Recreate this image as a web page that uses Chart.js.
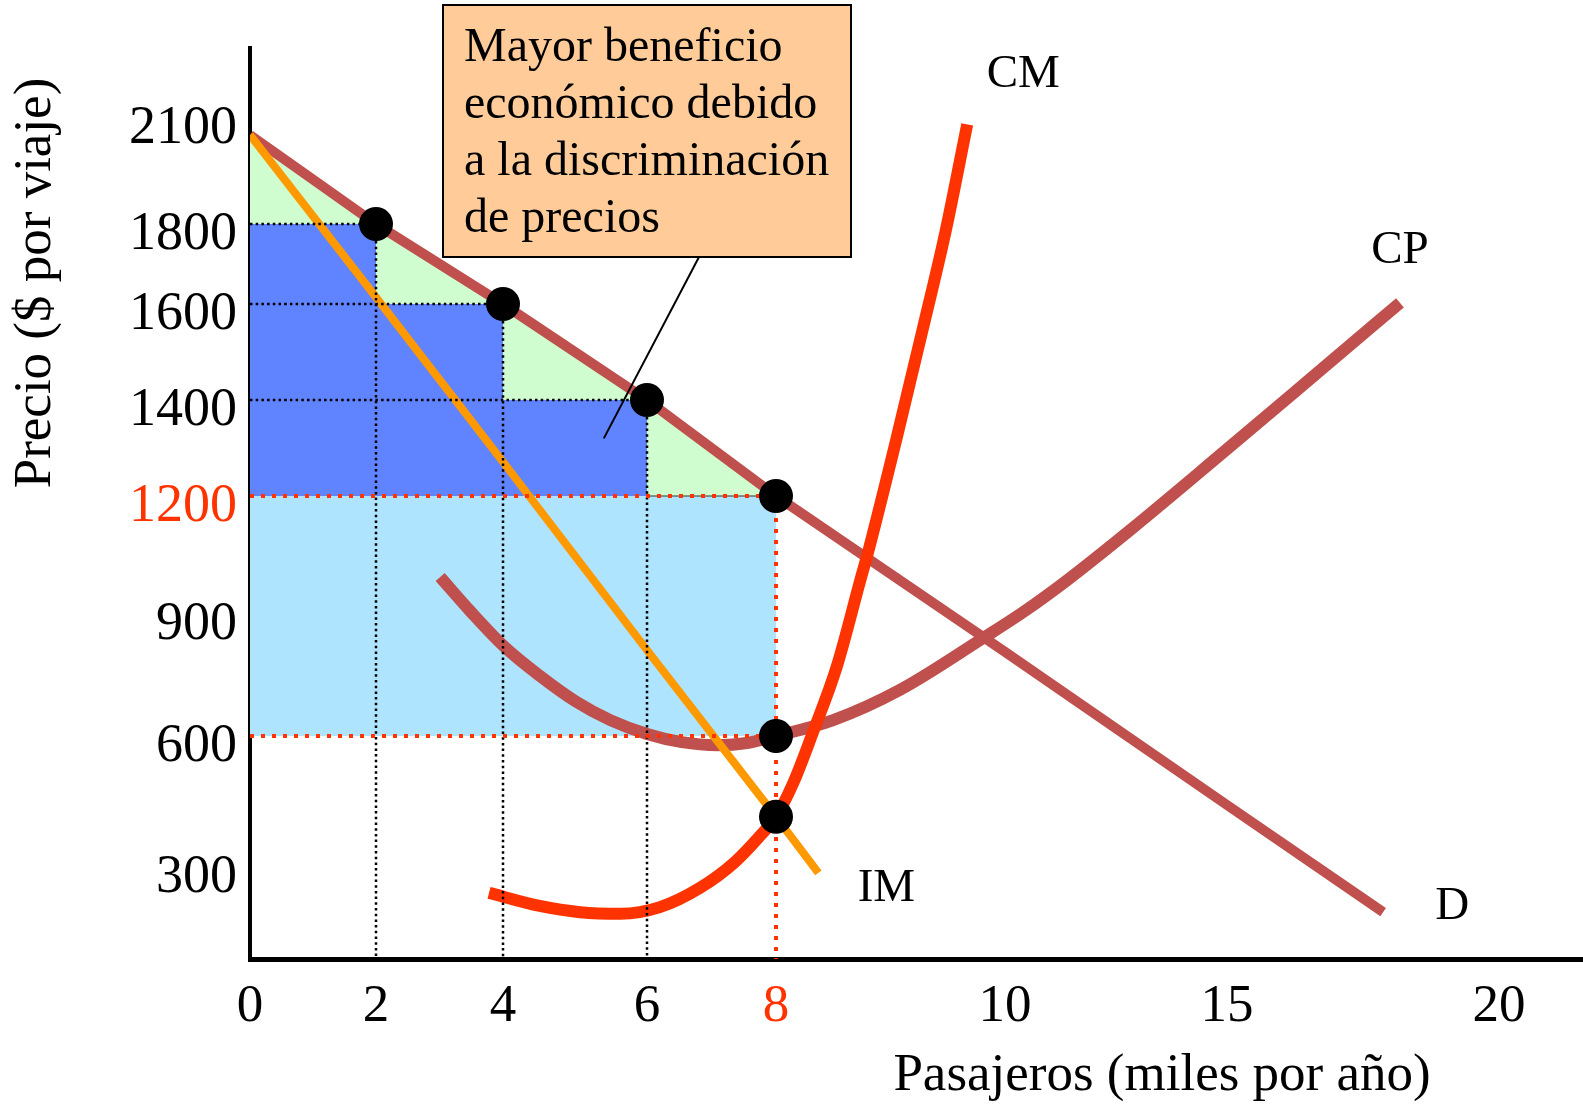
<!DOCTYPE html>
<html>
<head>
<meta charset="utf-8">
<script src="https://cdn.jsdelivr.net/npm/chart.js@4.4.0/dist/chart.umd.min.js"></script>
<style>
  html, body { margin: 0; padding: 0; background: #fff; }
  #wrap { width: 1583px; height: 1106px; }
</style>
</head>
<body>
<div id="wrap"><canvas id="myChart" width="1583" height="1106"></canvas></div>
<script>
// tick labels
const xTickValues = [0, 2, 4, 6, 8, 10, 15, 20];
const yTickValues = [300, 600, 900, 1200, 1400, 1600, 1800, 2100];

// price discrimination blocks (thousand passengers, $ per trip)
const stepQty = [2, 4, 6];
const stepPrice = [1800, 1600, 1400];
const monoQty = 8;
const monoPrice = 1200;
const avgCostAtMono = 600;
const margCostAtMono = 415;

// curves
const demandQty = [0, 2, 4, 6, 8, 10, 15, 17.87];
const demandPrice = [2052, 1800, 1600, 1400, 1200, 807, 442, 192];

const mrQty = [0, 2, 4, 6, 8, 8.37];
const mrPrice = [2052, 1617, 1271, 811, 415, 286];

const mcQty = [3.78, 4.51, 5.07, 5.63, 6.2, 6.82, 7.36, 7.75, 8, 8.15, 8.32, 8.53, 8.73, 8.82, 9.06, 9.28, 9.48, 9.67];
const mcPrice = [238, 207, 192, 188, 204, 250, 311, 371, 415, 492, 607, 770, 979, 1075, 1327, 1546, 1780, 2082];

const acQty = [3.01, 3.48, 4.01, 4.51, 5.0, 5.49, 6, 6.54, 7.09, 7.55, 8, 8.5, 9.08, 9.81, 10.45, 11.4, 12.88, 14.84, 16.53, 18.18];
const acPrice = [994, 908, 821, 748, 686, 639, 605, 586, 579, 584, 600, 639, 713, 841, 908, 986, 1119, 1285, 1444, 1603];

// axis with uneven spacing between ticks, like the hand drawn original
class BrokenScale extends Chart.LinearScale {
  toDecimal(v) {
    const k = this.options.knots;
    let i = 1;
    while (i < k.length - 1 && v > k[i][0]) i++;
    const a = k[i - 1], b = k[i];
    const pos = a[1] + (v - a[0]) / (b[0] - a[0]) * (b[1] - a[1]);
    return (pos - k[0][1]) / (k[k.length - 1][1] - k[0][1]);
  }
  getPixelForValue(value) {
    return this.getPixelForDecimal(this.toDecimal(value));
  }
  getValueForPixel(pixel) {
    const k = this.options.knots;
    const pos = k[0][1] + this.getDecimalForPixel(pixel) * (k[k.length - 1][1] - k[0][1]);
    for (let i = 1; i < k.length; i++) {
      const a = k[i - 1], b = k[i];
      if (pos <= b[1] || i === k.length - 1) {
        return a[0] + (pos - a[1]) / (b[1] - a[1]) * (b[0] - a[0]);
      }
    }
  }
}
BrokenScale.id = 'broken';
BrokenScale.defaults = Chart.LinearScale.defaults;
Chart.register(BrokenScale);

const xKnots = [[0, 0], [2, 126], [4, 253], [6, 397], [8, 526], [10, 755], [15, 977], [20, 1249], [21.5, 1333]];
const yKnots = [[80, 0], [300, 92], [600, 223], [900, 345], [1200, 463], [1400, 559], [1600, 655], [1800, 735], [2100, 841], [2300, 911]];
const yBottom = yKnots[0][0];

const RED = '#FF3300';
const BROWN = '#C0504D';
const SERIF = '"Liberation Serif", "Times New Roman", serif';

const pts = (xs, ys) => xs.map((x, i) => ({ x: x, y: ys[i] }));

// outline of the blue staircase
const stairs = [{ x: 0, y: stepPrice[0] }];
stepQty.forEach((q, i) => {
  stairs.push({ x: q, y: stepPrice[i] });
  stairs.push({ x: q, y: i + 1 < stepPrice.length ? stepPrice[i + 1] : monoPrice });
});

const datasets = [];

// black dots
datasets.push({
  data: pts(stepQty.concat([monoQty, monoQty, monoQty]), stepPrice.concat([monoPrice, avgCostAtMono, margCostAtMono])),
  showLine: false, pointRadius: 17, pointBackgroundColor: '#000', pointBorderWidth: 0, order: 0
});

// red dotted guides
const redGuides = [
  pts([0, monoQty], [monoPrice, monoPrice]),
  pts([0, monoQty], [avgCostAtMono, avgCostAtMono]),
  pts([monoQty, monoQty], [monoPrice, yBottom])
];
redGuides.forEach(d => datasets.push({
  data: d, borderColor: RED, borderWidth: 4, borderDash: [4, 7], pointRadius: 0, order: 1
}));

// thin edge under the last green triangle
datasets.push({
  data: pts([stepQty[stepQty.length - 1], monoQty], [monoPrice, monoPrice]),
  borderColor: '#333', borderWidth: 1.2, pointRadius: 0, order: 1.5
});

// black dotted guides
stepQty.forEach((q, i) => {
  datasets.push({ data: pts([0, q], [stepPrice[i], stepPrice[i]]), borderColor: '#000', borderWidth: 2.5, borderDash: [2.5, 3.2], pointRadius: 0, order: 2 });
  datasets.push({ data: pts([q, q], [stepPrice[i], yBottom]), borderColor: '#000', borderWidth: 2.5, borderDash: [2.5, 3.2], pointRadius: 0, order: 2 });
});

// curves
datasets.push({ label: 'IM', data: pts(mrQty, mrPrice), borderColor: '#FF9900', borderWidth: 8, pointRadius: 0, tension: 0, order: 3 });
datasets.push({ label: 'CM', data: pts(mcQty, mcPrice), borderColor: RED, borderWidth: 12, pointRadius: 0, cubicInterpolationMode: 'monotone', order: 4 });
datasets.push({ label: 'D', data: pts(demandQty, demandPrice), borderColor: BROWN, borderWidth: 10, pointRadius: 0, tension: 0, order: 5 });
datasets.push({ label: 'CP', data: pts(acQty, acPrice), borderColor: BROWN, borderWidth: 12, pointRadius: 0, cubicInterpolationMode: 'monotone', order: 6 });

// shaded areas
datasets.push({
  data: stairs, borderWidth: 0, pointRadius: 0, tension: 0,
  fill: { value: monoPrice }, backgroundColor: '#6083FF', order: 7
});
datasets.push({
  data: pts(demandQty.slice(0, 5), demandPrice.slice(0, 5)),
  borderWidth: 0, pointRadius: 0, fill: { value: monoPrice }, backgroundColor: '#D0FDD0', order: 8
});
datasets.push({
  data: pts([0, monoQty], [monoPrice, monoPrice]),
  borderWidth: 0, pointRadius: 0, fill: { value: avgCostAtMono }, backgroundColor: '#AEE4FD', order: 9
});

const labelsPlugin = {
  id: 'labelsPlugin',
  afterDraw(chart) {
    const ctx = chart.ctx;
    const xs = chart.scales.x, ys = chart.scales.y;
    ctx.save();
    ctx.fillStyle = '#000';
    ctx.textAlign = 'center';
    ctx.textBaseline = 'middle';

    // axis titles
    ctx.font = '53px ' + SERIF;
    ctx.fillText('Pasajeros (miles por año)', 1162, 1076);
    ctx.save();
    ctx.translate(36, 283);
    ctx.rotate(-Math.PI / 2);
    ctx.fillText('Precio ($ por viaje)', 0, 0);
    ctx.restore();

    // curve names next to the curve ends
    ctx.font = '47px ' + SERIF;
    const tag = (name, q, p, dx, dy) => ctx.fillText(name, xs.getPixelForValue(q) + dx, ys.getPixelForValue(p) + dy);
    tag('CM', mcQty[mcQty.length - 1], mcPrice[mcPrice.length - 1], 56, -50);
    tag('CP', acQty[acQty.length - 1], acPrice[acPrice.length - 1], 0, -52);
    tag('D', demandQty[demandQty.length - 1], demandPrice[demandPrice.length - 1], 69, -6);
    tag('IM', mrQty[mrQty.length - 1], mrPrice[mrPrice.length - 1], 68, 16);

    // callout box
    ctx.fillStyle = '#FFCC99';
    ctx.fillRect(443, 5, 408, 252);
    ctx.strokeStyle = '#000';
    ctx.lineWidth = 2;
    ctx.strokeRect(443, 5, 408, 252);
    ctx.beginPath();
    ctx.moveTo(699, 257);
    ctx.lineTo(xs.getPixelForValue(5.4), ys.getPixelForValue(1320));
    ctx.stroke();
    ctx.fillStyle = '#000';
    ctx.textAlign = 'left';
    ctx.textBaseline = 'alphabetic';
    ctx.font = '48px ' + SERIF;
    ['Mayor beneficio', 'económico debido', 'a la discriminación', 'de precios'].forEach((line, i) => {
      ctx.fillText(line, 464, 61 + i * 57);
    });
    ctx.restore();
  }
};

Chart.defaults.font.family = SERIF;

new Chart(document.getElementById('myChart'), {
  type: 'line',
  data: { datasets: datasets },
  options: {
    responsive: false,
    devicePixelRatio: 1,
    animation: false,
    events: [],
    layout: { autoPadding: false, padding: { top: 48, right: 0, bottom: 0, left: 0 } },
    plugins: { legend: { display: false }, tooltip: { enabled: false } },
    scales: {
      x: {
        type: 'broken',
        knots: xKnots,
        min: xKnots[0][0],
        max: xKnots[xKnots.length - 1][0],
        afterBuildTicks: s => { s.ticks = xTickValues.map(v => ({ value: v })); },
        afterFit: s => { s.height = 147; s.paddingLeft = 0; s.paddingRight = 0; },
        grid: { display: false, drawTicks: false },
        border: { display: true, color: '#000', width: 5 },
        ticks: {
          autoSkip: false, maxRotation: 0, padding: 16,
          font: { size: 53, lineHeight: 1.2 },
          color: c => (c.tick && c.tick.value === monoQty ? RED : '#000'),
          callback: v => String(v)
        }
      },
      y: {
        type: 'broken',
        knots: yKnots,
        min: yKnots[0][0],
        max: yKnots[yKnots.length - 1][0],
        afterBuildTicks: s => { s.ticks = yTickValues.map(v => ({ value: v })); },
        afterFit: s => { s.width = 250; s.paddingTop = 0; s.paddingBottom = 0; },
        grid: { display: false, drawTicks: false },
        border: { display: true, color: '#000', width: 4 },
        ticks: {
          autoSkip: false, padding: 13, labelOffset: 11,
          font: { size: 54, lineHeight: 1.2 },
          color: c => (c.tick && c.tick.value === monoPrice ? RED : '#000'),
          callback: v => String(v)
        }
      }
    }
  },
  plugins: [labelsPlugin]
});
</script>
</body>
</html>
